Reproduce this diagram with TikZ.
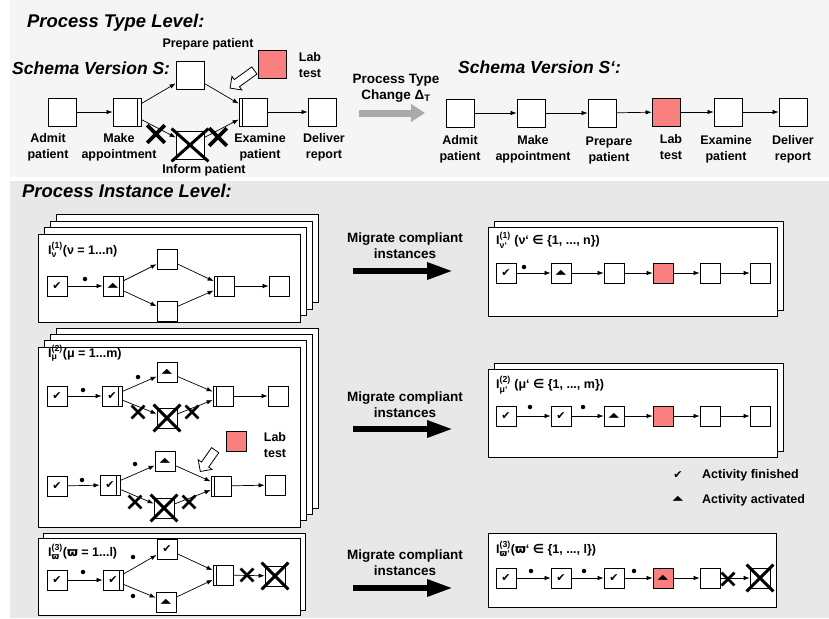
\documentclass[tikz,border=0pt]{standalone}
\usepackage{fontspec}
\usepackage{amsmath}
\setmainfont{Liberation Sans}
\newfontfamily\symfont{DejaVu Sans}
\usetikzlibrary{arrows.meta,shapes.misc,shapes.arrows}

\definecolor{labred}{RGB}{250,128,128}
\definecolor{typebg}{RGB}{245,245,245}
\definecolor{instbg}{RGB}{232,232,232}
\definecolor{changegray}{RGB}{170,170,170}

\newcommand\lblfont{\bfseries\fontsize{12.5}{16}\selectfont}
\newcommand\headfont{\bfseries\itshape\fontsize{17.5}{20}\selectfont}
\newcommand\levelfont{\bfseries\itshape\fontsize{18.4}{20}\selectfont}
\newcommand\migfont{\bfseries\fontsize{13.5}{16}\selectfont}
\newcommand\fin{{\symfont\bfseries\fontsize{11}{11}\selectfont ✔}}
\newcommand\actv{{\symfont\fontsize{12}{12}\selectfont\scalebox{1.15}[0.55]{▲}}}
\newcommand\inst[3]{I$^{\text{(#1)}}_{\text{#2}}$#3}

\begin{document}
\begin{tikzpicture}[x=1pt, y=-1pt,
    every node/.append style={font=\lblfont, inner sep=0pt},
    task/.style={draw, fill=white, line width=0.8pt, minimum size=28pt},
    itask/.style={task, minimum size=20pt},
    andsplit/.style={path picture={\draw[line width=0.8pt]
      ([xshift=-3.5pt]path picture bounding box.north east) --
      ([xshift=-3.5pt]path picture bounding box.south east);}},
    andjoin/.style={path picture={\draw[line width=0.8pt]
      ([xshift=3.5pt]path picture bounding box.north west) --
      ([xshift=3.5pt]path picture bounding box.south west);}},
    flow/.style={-{Latex[length=6pt,width=4.5pt]}, line width=0.7pt},
    token/.style={circle, fill, minimum size=4.5pt},
    page/.style={draw, fill=white, line width=0.8pt}]
  \tikzstyle{heading} = [font=\headfont, anchor=west]
  \tikzstyle{level} = [font=\levelfont, anchor=west]
  \tikzstyle{note} = [align=center]
  \tikzstyle{cut} = [cross out, draw, line width=2.8pt, minimum size=10pt]
  \tikzstyle{bigcut} = [cut, line width=3.6pt, minimum size=14pt]
  \tikzstyle{strike} = [line width=3pt]
  \tikzstyle{hollow} = [single arrow, draw, fill=white, line width=0.8pt,
    minimum height=30pt, inner sep=4pt, single arrow head extend=4pt]
  \tikzstyle{bigarrow} = [line width=6pt, -{Triangle[length=26pt,width=16pt]}]

  \useasboundingbox (0,0) rectangle (829,618);
  \fill[typebg] (10,0) rectangle (829,177);
  \fill[instbg] (10,181) rectangle (829,618);

  \node[level] (typelevel) at (27,23) {Process Type Level:};
  \node[heading] (schemaS) at (12,68) {Schema Version S:};
  \node[heading] (schemaS2) at (458,67) {Schema Version S‘:};

  \node[task] (admit) at (62,112) {};
  \node[task, andsplit] (make) at (127,112) {};
  \node[task] (prep) at (190,75) {};
  \node[task] (inform) at (190,145) {};
  \node[task, andjoin] (exam) at (253,112) {};
  \node[task] (deliver) at (322,112) {};
  \node[task, fill=labred] (lab) at (272,64) {};
  \node[note] (admitL) at (48,147) {Admit\\patient};
  \node[note] (makeL) at (119,147) {Make\\appointment};
  \node[note] (prepL) at (208,44) {Prepare patient};
  \node[note] (informL) at (204,170) {Inform patient};
  \node[note] (examL) at (260,147) {Examine\\patient};
  \node[note] (deliverL) at (324,147) {Deliver\\report};
  \node[note] (labL) at (310,65) {Lab\\test};
  \draw[flow] (admit) -- (make);
  \draw[flow] (make) -- (prep);
  \draw[flow] (make) -- (inform);
  \draw[flow] (prep) -- (exam);
  \draw[flow] (inform) -- (exam);
  \draw[flow] (exam) -- (deliver);
  \draw[strike] ([shift={(-4,-2)}]inform.north west) -- ([shift={(4,2)}]inform.south east);
  \draw[strike] ([shift={(4,-2)}]inform.north east) -- ([shift={(-4,2)}]inform.south west);
  \node[bigcut] (cutA) at (156,134) {};
  \node[bigcut] (cutB) at (218,137) {};
  \node[hollow, rotate=216] (insert) at (244,78) {};

  \node[note, font=\migfont] (changeL) at (396,88) {Process Type\\Change Δ\textsubscript{T}};
  \coordinate (changeA) at (359,113);
  \coordinate (changeB) at (425,113);
  \draw[changegray, line width=7pt, -{Triangle[length=14pt,width=17pt]}] (changeA) -- (changeB);

  \node[task] (admit2) at (460,113) {};
  \node[task] (make2) at (531,113) {};
  \node[task] (prep2) at (602,113) {};
  \node[task, fill=labred] (lab2) at (666,112) {};
  \node[task] (exam2) at (728,112) {};
  \node[task] (deliver2) at (793,112) {};
  \foreach \a/\b in {admit2/make2, make2/prep2, prep2/lab2, lab2/exam2, exam2/deliver2}
    \draw[flow] (\a) -- (\b);
  \node[note] (admit2L) at (460,149) {Admit\\patient};
  \node[note] (make2L) at (533,149) {Make\\appointment};
  \node[note] (prep2L) at (609,150) {Prepare\\patient};
  \node[note] (lab2L) at (671,147) {Lab\\test};
  \node[note] (exam2L) at (726,149) {Examine\\patient};
  \node[note] (deliver2L) at (793,149) {Deliver\\report};

  \node[level] (instlevel) at (22,191) {Process Instance Level:};

  \foreach \k in {3,2,1,0}
    \draw[page] (38+6*\k,234-6.5*\k) rectangle ++(262,88);
  \node[anchor=west] (g1L) at (48,250) {\inst{1}{ν}{(ν = 1...n)}};
  \node[itask] (a1) at (57,286) {\fin};
  \node[itask, andsplit] (a2) at (113,286) {\actv};
  \node[itask] (a3) at (167,259) {};
  \node[itask] (a4) at (167,311) {};
  \node[itask, andjoin] (a5) at (224,286) {};
  \node[itask] (a6) at (279,286) {};
  \node[token] (a1t) at (85,279) {};
  \draw[flow] (a1) -- (a2);
  \draw[flow] (a2) -- (a3);
  \draw[flow] (a2) -- (a4);
  \draw[flow] (a3) -- (a5);
  \draw[flow] (a4) -- (a5);
  \draw[flow] (a5) -- (a6);

  \foreach \k in {3,2,1,0}
    \draw[page] (38+6*\k,347-6.3*\k) rectangle ++(262,180);
  \node[anchor=west] (g2L) at (48,353) {\inst{2}{μ}{(μ = 1...m)}};
  \node[itask] (b1) at (57,396) {\fin};
  \node[itask, andsplit] (b2) at (112,396) {\fin};
  \node[itask] (b3) at (167,372) {\actv};
  \node[itask] (b4) at (167,418) {};
  \node[itask, andjoin] (b5) at (223,396) {};
  \node[itask] (b6) at (278,396) {};
  \node[token] (b1t) at (83,390) {};
  \node[token] (b2t) at (138,377) {};
  \draw[flow] (b1) -- (b2);
  \draw[flow] (b2) -- (b3);
  \draw[flow] (b2) -- (b4);
  \draw[flow] (b3) -- (b5);
  \draw[flow] (b4) -- (b5);
  \draw[flow] (b5) -- (b6);
  \draw[strike] ([shift={(-3,-3)}]b4.north west) -- ([shift={(3,3)}]b4.south east);
  \draw[strike] ([shift={(3,-3)}]b4.north east) -- ([shift={(-3,3)}]b4.south west);
  \node[cut] (b2x) at (138,412) {};
  \node[cut] (b4x) at (192,412) {};

  \node[itask, fill=labred] (lab3) at (236,441) {};
  \node[note] (lab3L) at (275,445) {Lab\\test};
  \node[hollow, rotate=235, minimum height=26pt] (insert2) at (209,459) {};

  \node[itask] (c1) at (57,486) {\fin};
  \node[itask, andsplit] (c2) at (110,485) {\fin};
  \node[itask] (c3) at (165,461) {\actv};
  \node[itask] (c4) at (164,508) {};
  \node[itask, andjoin] (c5) at (221,486) {};
  \node[itask] (c6) at (275,485) {};
  \node[token] (c1t) at (82,480) {};
  \node[token] (c2t) at (135,464) {};
  \draw[flow] (c1) -- (c2);
  \draw[flow] (c2) -- (c3);
  \draw[flow] (c2) -- (c4);
  \draw[flow] (c3) -- (c5);
  \draw[flow] (c4) -- (c5);
  \draw[flow] (c5) -- (c6);
  \draw[strike] ([shift={(-3,-3)}]c4.north west) -- ([shift={(3,3)}]c4.south east);
  \draw[strike] ([shift={(3,-3)}]c4.north east) -- ([shift={(-3,3)}]c4.south west);
  \node[cut] (c2x) at (135,502) {};
  \node[cut] (c4x) at (189,502) {};

  \foreach \k in {1,0}
    \draw[page] (38+5*\k,538-5*\k) rectangle ++(262,77);
  \node[anchor=west] (g3L) at (48,552) {\inst{3}{\symfont ϖ}{({\symfont ϖ} = 1...l)}};
  \node[itask] (d1) at (57,580) {\fin};
  \node[itask, andsplit] (d2) at (113,580) {\fin};
  \node[itask] (d3) at (167,549) {\fin};
  \node[itask] (d4) at (166,602) {\actv};
  \node[itask, andjoin] (d5) at (223,575) {};
  \node[itask] (d6) at (275,576) {};
  \node[token] (d1t) at (83,572) {};
  \node[token] (d2t) at (133,557) {};
  \node[token] (d3t) at (133,596) {};
  \draw[flow] (d1) -- (d2);
  \draw[flow] (d2) -- (d3);
  \draw[flow] (d2) -- (d4);
  \draw[flow] (d3) -- (d5);
  \draw[flow] (d4) -- (d5);
  \draw[flow] (d5) -- (d6);
  \draw[strike] ([shift={(-3,-3)}]d6.north west) -- ([shift={(3,3)}]d6.south east);
  \draw[strike] ([shift={(3,-3)}]d6.north east) -- ([shift={(-3,3)}]d6.south west);
  \node[cut] (d5x) at (247,575) {};

  \foreach \y/\i in {246/1,405/2,563/3}
    \node[note, font=\migfont] (mig\i) at (405,\y) {Migrate compliant\\instances};
  \foreach \y/\i in {271/1,429/2,588/3} {
    \coordinate (migA\i) at (353,\y);
    \coordinate (migB\i) at (453,\y);
    \draw[bigarrow] (migA\i) -- (migB\i);
  }

  \foreach \k in {1,0}
    \draw[page] (488+6*\k,227-6*\k) rectangle ++(289,89);
  \node[anchor=west] (r1L) at (496,240) {\inst{1}{ν‘}{ (ν‘ {\symfont ∈} \{1, ..., n\})}};
  \node[itask] (r1) at (506,273) {\fin};
  \node[itask] (r2) at (561,273) {\actv};
  \node[itask] (r3) at (614,273) {};
  \node[itask, fill=labred] (r4) at (663,273) {};
  \node[itask] (r5) at (710,273) {};
  \node[itask] (r6) at (760,273) {};
  \node[token] (r1t) at (524,267) {};
  \foreach \a/\b in {r1/r2, r2/r3, r3/r4, r4/r5, r5/r6}
    \draw[flow] (\a) -- (\b);

  \foreach \k in {1,0}
    \draw[page] (488+6*\k,369-6*\k) rectangle ++(289,88);
  \node[anchor=west] (s1L) at (496,385) {\inst{2}{μ‘}{ (μ‘ {\symfont ∈} \{1, ..., m\})}};
  \node[itask] (s1) at (506,416) {\fin};
  \node[itask] (s2) at (561,416) {\fin};
  \node[itask] (s3) at (614,416) {\actv};
  \node[itask, fill=labred] (s4) at (663,416) {};
  \node[itask] (s5) at (710,416) {};
  \node[itask] (s6) at (760,416) {};
  \node[token] (s1t) at (530,407) {};
  \node[token] (s2t) at (583,407) {};
  \foreach \a/\b in {s1/s2, s2/s3, s3/s4, s4/s5, s5/s6}
    \draw[flow] (\a) -- (\b);

  \draw[page] (488,533) rectangle ++(288,74);
  \node[anchor=west] (t1L) at (496,549) {\inst{3}{{\symfont ϖ}‘}{({\symfont ϖ}‘ {\symfont ∈} \{1, ..., l\})}};
  \node[itask] (t1) at (506,578) {\fin};
  \node[itask] (t2) at (561,578) {\fin};
  \node[itask] (t3) at (614,578) {\fin};
  \node[itask, fill=labred] (t4) at (663,578) {\actv};
  \node[itask] (t5) at (710,578) {};
  \node[itask] (t6) at (760,578) {};
  \node[token] (t1t) at (531,571) {};
  \node[token] (t2t) at (584,571) {};
  \node[token] (t3t) at (634,571) {};
  \foreach \a/\b in {t1/t2, t2/t3, t3/t4, t4/t5, t5/t6}
    \draw[flow] (\a) -- (\b);
  \draw[strike] ([shift={(-3,-3)}]t6.north west) -- ([shift={(3,3)}]t6.south east);
  \draw[strike] ([shift={(3,-3)}]t6.north east) -- ([shift={(-3,3)}]t6.south west);
  \node[cut] (t5x) at (728,579) {};

  \node (finSym) at (678,475) {\fin};
  \node[anchor=west] (finL) at (702,475) {Activity finished};
  \node (actSym) at (678,499) {\actv};
  \node[anchor=west] (actL) at (702,500) {Activity activated};
\end{tikzpicture}
\end{document}
